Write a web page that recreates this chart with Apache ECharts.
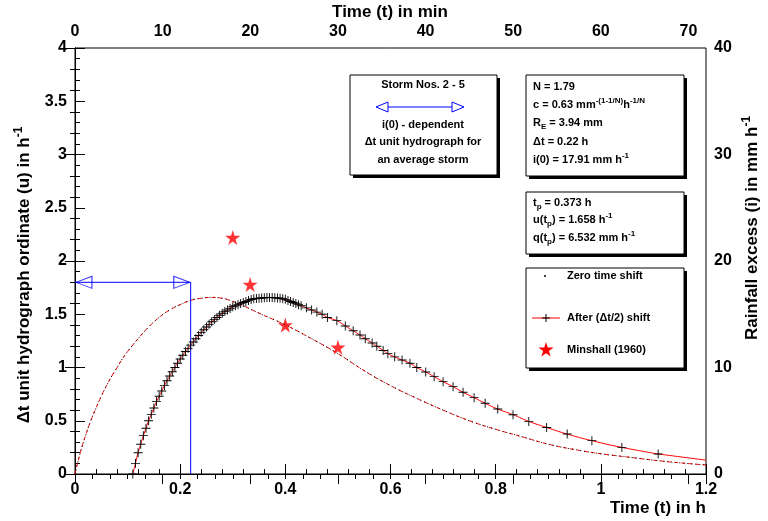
<!DOCTYPE html>
<html><head><meta charset="utf-8">
<script src="https://cdn.jsdelivr.net/npm/echarts@6/dist/echarts.min.js"></script>
<style>html,body{margin:0;padding:0;background:#fff}#c{width:768px;height:521px}</style>
</head><body><div id="c"></div>
<script>
const zeroT=[0,0.01,0.02,0.03,0.04,0.05,0.06,0.07,0.08,0.09,0.10,0.12,0.14,0.16,0.18,0.20,0.22,0.24,0.26,0.28,0.30,0.32,0.35,0.40,0.45,0.50,0.55,0.60,0.65,0.70,0.75,0.80,0.85,0.90,0.95,1.00,1.05,1.10,1.15,1.20];
const zeroU=[0,0.20,0.36,0.50,0.62,0.73,0.83,0.92,1.00,1.08,1.15,1.27,1.38,1.47,1.54,1.59,1.63,1.65,1.658,1.65,1.62,1.58,1.51,1.40,1.27,1.13,0.97,0.83,0.71,0.60,0.50,0.42,0.35,0.28,0.23,0.19,0.16,0.13,0.105,0.085];
const shiftT=[0.11,0.115,0.12,0.125,0.13,0.135,0.14,0.145,0.15,0.155,0.16,0.165,0.17,0.175,0.18,0.185,0.19,0.195,0.20,0.205,0.21,0.215,0.22,0.225,0.23,0.235,0.24,0.245,0.25,0.255,0.26,0.265,0.27,0.275,0.28,0.285,0.29,0.295,0.30,0.305,0.31,0.315,0.32,0.325,0.33,0.335,0.34,0.345,0.35,0.355,0.36,0.365,0.37,0.375,0.38,0.385,0.39,0.395,0.40,0.405,0.41,0.415,0.42,0.425,0.43,0.44,0.45,0.46,0.47,0.48,0.498,0.514,0.529,0.542,0.552,0.565,0.574,0.586,0.595,0.608,0.622,0.637,0.650,0.667,0.683,0.700,0.719,0.738,0.759,0.780,0.804,0.833,0.863,0.897,0.936,0.983,1.040,1.109];
const shiftU=[0,0.10,0.20,0.28,0.36,0.43,0.50,0.56,0.62,0.68,0.73,0.78,0.83,0.875,0.92,0.96,1.00,1.04,1.08,1.115,1.15,1.18,1.21,1.24,1.27,1.30,1.33,1.355,1.38,1.405,1.43,1.45,1.47,1.49,1.51,1.525,1.54,1.555,1.57,1.58,1.59,1.60,1.61,1.62,1.63,1.638,1.645,1.648,1.65,1.653,1.655,1.657,1.658,1.657,1.655,1.653,1.65,1.645,1.64,1.63,1.62,1.61,1.60,1.59,1.58,1.56,1.54,1.52,1.50,1.47,1.44,1.39,1.345,1.305,1.27,1.23,1.20,1.16,1.13,1.10,1.07,1.04,1.00,0.958,0.914,0.867,0.82,0.767,0.717,0.664,0.61,0.557,0.494,0.437,0.375,0.313,0.25,0.188];
const minT=[0.30,0.333,0.40,0.50];
const minU=[2.22,1.78,1.40,1.19];
const star='path://M50,0 L61,35 L98,35 L68,57 L79,91 L50,70 L21,91 L32,57 L2,35 L39,35 Z';
const starPts=[[50,0],[61,35],[98,35],[68,57],[79,91],[50,70],[21,91],[32,57],[2,35],[39,35]];
const F='Liberation Sans, Arial, sans-serif';
const ax={axisLine:{lineStyle:{color:'#000'}},axisTick:{inside:true,length:10,lineStyle:{color:'#000'}},minorTick:{show:true,length:5,lineStyle:{color:'#000'}},splitLine:{show:false},axisLabel:{color:'#000',fontFamily:F,fontWeight:'bold',fontSize:16}};
const chart=echarts.init(document.getElementById('c'));
const rich={s:{fontSize:8,fontWeight:'bold',fontFamily:F,verticalAlign:'top',padding:[0,0,8,0]},b:{fontSize:8,fontWeight:'bold',fontFamily:F,padding:[8,0,0,0]},
  S:{fontSize:12,fontWeight:'bold',fontFamily:F,padding:[0,0,10,0]}};
function box(x,y,w,h,lines){
  const els=[{type:'rect',shape:{x:x+3,y:y+3,width:w,height:h},style:{fill:'#000'}},
   {type:'rect',shape:{x:x,y:y,width:w,height:h},style:{fill:'#fff',stroke:'#000',lineWidth:1}}];
  lines.forEach(l=>els.push({type:'text',x:l[0],y:l[1],style:{text:l[2],fill:'#000',font:'bold 11px '+F,align:l[3]||'left',verticalAlign:'middle',rich:rich}}));
  return els;
}
function title(x,y,txt,rot,align){return {type:'text',x:x,y:y,rotation:rot||0,style:{text:txt,fill:'#000',font:'bold 17px '+F,align:align||'center',verticalAlign:'middle',rich:rich}};}
const g=[].concat(
 box(350,75,147,100,[[423,85,'Storm Nos. 2 - 5','center'],[423,125,'i(0) - dependent','center'],[423,142,'\u0394t unit hydrograph for','center'],[423,160,'an average storm','center']]),
 [{type:'line',shape:{x1:378,y1:107,x2:462,y2:107},style:{stroke:'#00f',lineWidth:1}},
  {type:'polygon',shape:{points:[[376,107],[388,102],[388,112]]},style:{fill:'#fff',stroke:'#00f'}},
  {type:'polygon',shape:{points:[[464,107],[452,102],[452,112]]},style:{fill:'#fff',stroke:'#00f'}}],
 box(526,75,158,101,[[533,87,'N = 1.79'],[533,105,'c = 0.63 mm{s|-(1-1/N)}h{s|-1/N}'],[533,123,'R{b|E} = 3.94 mm'],[533,142,'\u0394t = 0.22 h'],[533,160,'i(0) = 17.91 mm h{s|-1}']]),
 box(526,192,158,62,[[533,203,'t{b|p} = 0.373 h'],[533,220,'u(t{b|p}) = 1.658 h{s|-1}'],[533,238,'q(t{b|p}) = 6.532 mm h{s|-1}']]),
 box(526,268,158,100,[[567,276,'Zero time shift'],[567,318,'After (\u0394t/2) shift'],[567,350,'Minshall (1960)']]),
 [{type:'circle',shape:{cx:545,cy:276,r:1},style:{fill:'#000'}},
  {type:'line',shape:{x1:532,y1:318,x2:560,y2:318},style:{stroke:'#f00',lineWidth:1}},
  {type:'line',shape:{x1:546,y1:314,x2:546,y2:322},style:{stroke:'#000'}},
  {type:'line',shape:{x1:542,y1:318,x2:550,y2:318},style:{stroke:'#000'}},
  {type:'polygon',shape:{points:starPts.map(p=>[538+p[0]*0.16,342+p[1]*0.16])},style:{fill:'#f00'}},
  title(706,508,'Time (t) in h',0,'right'),
  title(390,12,'Time (t) in min',0,'center'),
  title(24,275,'\u0394t unit hydrograph ordinate (u) in h{S|-1}',Math.PI/2,'center'),
  title(752,228,'Rainfall excess (i) in mm h{S|-1}',Math.PI/2,'center')]
);
chart.setOption({
 animation:false,
 grid:{left:75,right:62,top:48,bottom:47,show:true,borderColor:'#000',borderWidth:1,outerBoundsMode:'none',containLabel:false},
 graphic:g,
 xAxis:[
  Object.assign({},ax,{type:'value',min:0,max:1.2,interval:0.2,position:'bottom',axisLabel:Object.assign({},ax.axisLabel,{formatter:v=>v===0?'0':(Math.round(v*10)/10).toString()})}),
  Object.assign({},ax,{type:'value',min:0,max:72,interval:10,position:'top'})
 ],
 yAxis:[
  Object.assign({},ax,{type:'value',min:0,max:4,interval:0.5,position:'left'}),
  Object.assign({},ax,{type:'value',min:0,max:40,interval:10,position:'right'})
 ],
 series:[
  {type:'line',xAxisIndex:0,yAxisIndex:0,data:zeroT.map((t,i)=>[t,zeroU[i]]),smooth:true,showSymbol:false,lineStyle:{color:'#f00',width:1,type:[4,3]}},
  {type:'line',xAxisIndex:0,yAxisIndex:0,data:zeroT.map((t,i)=>[t,zeroU[i]]),smooth:true,showSymbol:false,lineStyle:{color:'#000',width:1,type:[1,3]}},
  {type:'line',xAxisIndex:0,yAxisIndex:0,data:shiftT.map((t,i)=>[t,shiftU[i]]),smooth:true,showAllSymbol:true,symbol:'path://M4.5,0 L5.5,0 L5.5,4.5 L10,4.5 L10,5.5 L5.5,5.5 L5.5,10 L4.5,10 L4.5,5.5 L0,5.5 L0,4.5 L4.5,4.5 Z',symbolSize:9,itemStyle:{color:'#000'},lineStyle:{color:'#f00',width:1}},
  {type:'line',xAxisIndex:0,yAxisIndex:0,data:[[1.109,0.188],[1.2,0.13]],smooth:true,showSymbol:false,lineStyle:{color:'#f00',width:1}},
  {type:'scatter',xAxisIndex:0,yAxisIndex:0,data:minT.map((t,i)=>[t,minU[i]]),symbol:star,symbolSize:15,itemStyle:{color:'#f00'}},
  {type:'line',xAxisIndex:0,yAxisIndex:0,data:[[0.22,0],[0.22,1.8],[0,1.8]],showSymbol:false,lineStyle:{color:'#00f',width:1}},
  {type:'scatter',xAxisIndex:0,yAxisIndex:0,data:[[0.017,1.8]],symbol:'triangle',symbolRotate:90,symbolSize:[12,16],itemStyle:{color:'#fff',borderColor:'#00f',borderWidth:1}},
  {type:'scatter',xAxisIndex:0,yAxisIndex:0,data:[[0.203,1.8]],symbol:'triangle',symbolRotate:-90,symbolSize:[12,16],itemStyle:{color:'#fff',borderColor:'#00f',borderWidth:1}}
 ]
});
</script></body></html>
